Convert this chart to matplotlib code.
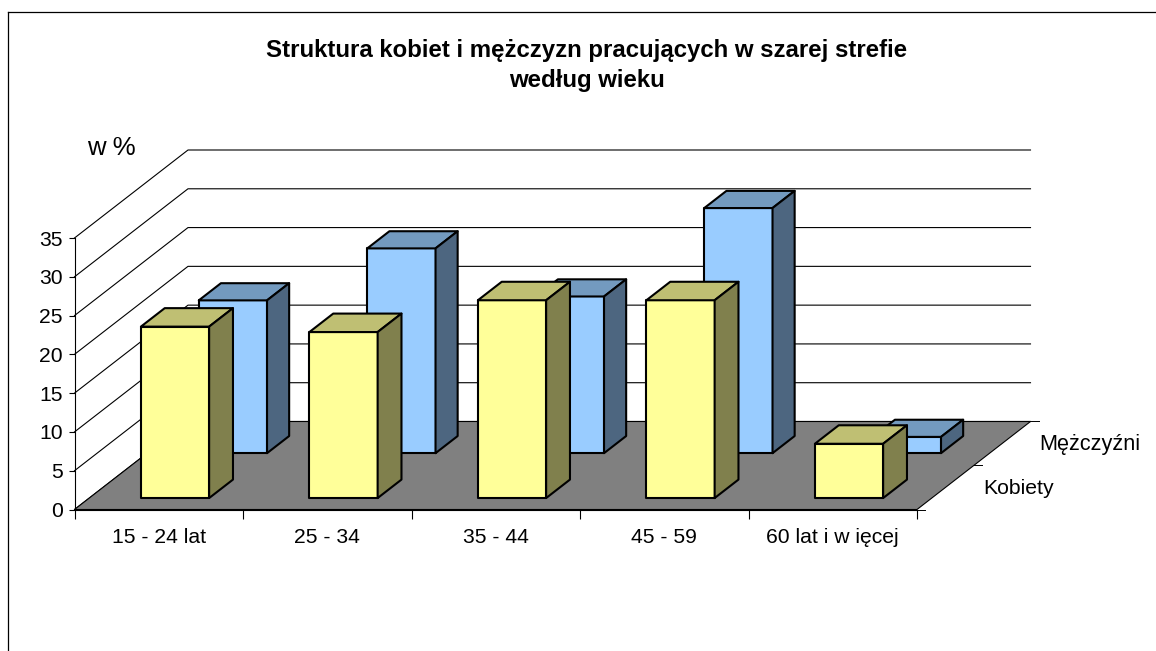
import matplotlib
matplotlib.use('Agg')
import matplotlib.pyplot as plt
from matplotlib.lines import Line2D
from matplotlib.patches import Polygon

plt.rcParams['font.family'] = ['Liberation Sans', 'DejaVu Sans']

categories = ['15 - 24 lat', '25 - 34', '35 - 44', '45 - 59', '60 lat i w ięcej']
kobiety = [22.1, 21.4, 25.5, 25.5, 7.0]
mezczyzni = [19.7, 26.4, 20.2, 31.6, 2.1]
series_names = ['Kobiety', 'Mężczyźni']
y_ticks = [0, 5, 10, 15, 20, 25, 30, 35]

W, H = 1156, 651
# oblique projection of the depth axis, in category / value units
DEPTH_X = 113.5 / 168.5
DEPTH_Y = 88 / 7.757
BAR_WIDTH = 0.405
BAR_SHIFT = 0.009


def proj(x, y, d):
    return (x + d * DEPTH_X, y + d * DEPTH_Y)


def draw_bar(ax, cat, value, d0, depth, front, top, side):
    x0 = cat + 0.5 + BAR_SHIFT - BAR_WIDTH / 2
    x1 = cat + 0.5 + BAR_SHIFT + BAR_WIDTH / 2
    d1 = d0 + depth
    faces = [
        ([(x0, 0, d0), (x1, 0, d0), (x1, value, d0), (x0, value, d0)], front),
        ([(x0, value, d0), (x1, value, d0), (x1, value, d1), (x0, value, d1)], top),
        ([(x1, 0, d0), (x1, 0, d1), (x1, value, d1), (x1, value, d0)], side),
    ]
    for pts, color in faces:
        ax.add_patch(Polygon([proj(*p) for p in pts], closed=True, facecolor=color,
                             edgecolor='black', linewidth=1.5, joinstyle='round',
                             clip_on=False, zorder=3))


fig = plt.figure(figsize=(W / 100, H / 100), dpi=100, facecolor='white')
ax = fig.add_axes([74.5 / W, (H - 509.5) / H, 842.5 / W, 271.5 / H])
ax.patch.set_alpha(0)
ax.set_xlim(0, 5)
ax.set_ylim(0, 35)

# walls
for v in y_ticks:
    pts = [proj(0, v, 0), proj(0, v, 1), proj(5, v, 1)]
    ax.plot([p[0] for p in pts], [p[1] for p in pts], color='black', lw=0.8,
            clip_on=False, zorder=1)

# floor
floor = [proj(0, 0, 0), proj(5, 0, 0), proj(5, 0, 1), proj(0, 0, 1)]
ax.add_patch(Polygon(floor, closed=True, facecolor='#808080', edgecolor='black',
                     linewidth=0.8, clip_on=False, zorder=2))

# depth axis ticks
for d in [0, 0.5, 1]:
    p = proj(5, 0, d)
    ax.plot([p[0], p[0] + 0.048], [p[1], p[1]], color='black', lw=0.7,
            clip_on=False, zorder=2.5)

for i, v in enumerate(mezczyzni):
    draw_bar(ax, i, v, 0.64, 0.195, '#99CCFF', '#739ABF', '#4D6680')
for i, v in enumerate(kobiety):
    draw_bar(ax, i, v, 0.13, 0.21, '#FFFF99', '#BFBF73', '#80804D')

# axes
for s in ['top', 'right']:
    ax.spines[s].set_visible(False)
ax.spines['left'].set_linewidth(0.8)
ax.spines['bottom'].set_linewidth(0.8)
ax.set_yticks(y_ticks)
ax.set_xticks(range(6))
ax.set_xticklabels([])
ax.set_xticks([i + 0.5 for i in range(5)], categories, minor=True)
ax.tick_params(axis='y', length=4, width=0.8, labelsize=15.2, pad=4.5)
ax.tick_params(axis='x', which='major', length=6.5, width=0.8)
ax.tick_params(axis='x', which='minor', length=0, labelsize=15.2, pad=13)

# depth axis labels
for name, d in zip(series_names, [0.25, 0.75]):
    p = proj(5, 0, d)
    ax.annotate(name, xy=p, xytext=(27, -0.5), textcoords='offset points',
                fontsize=15.6 if name == 'Mężczyźni' else 15.2,
                va='center', ha='left', annotation_clip=False)

fig.text(587 / W, 1 - 50 / H, 'Struktura kobiet i mężczyzn pracujących w szarej strefie',
         fontsize=17.3, fontweight='bold', ha='center', va='center')
fig.text(587 / W, 1 - 81 / H, 'według wieku',
         fontsize=17.3, fontweight='bold', ha='center', va='center')
fig.text(87 / W, 1 - 148 / H, 'w %', fontsize=18.5, ha='left', va='center')

# chart frame
fig.add_artist(Line2D([8 / W, 8 / W], [0, 1 - 12 / H], color='black', lw=0.9))
fig.add_artist(Line2D([8 / W, 1], [1 - 12 / H, 1 - 12 / H], color='black', lw=0.9))

fig.savefig('out.png', dpi=100)
